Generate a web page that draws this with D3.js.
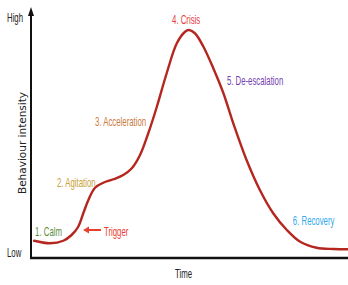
<!DOCTYPE html>
<html>
<head>
<meta charset="utf-8">
<script src="https://cdn.jsdelivr.net/npm/d3@7"></script>
<style>
	body { margin: 0; background: #fff; }
	svg { display: block; }
	.label { font-family: "Liberation Sans", Arial, sans-serif; font-size: 12px; }
</style>
</head>
<body>
<div id="chart"></div>
<script>
// curve of behaviour intensity over time (both 0-100)
const timeValues = [1.0, 6.0, 10.2, 12.8, 14.9, 16.5, 18.1, 20.2, 22.8, 26.0, 29.1, 31.8, 34.4, 37.0, 39.7, 42.8, 46.0, 48.6, 49.8, 51.7, 54.4, 57.5, 60.7, 63.8, 68.0, 72.2, 76.4, 80.7, 84.9, 90.1, 95.4, 100];
const intensityValues = [6.9, 5.9, 6.9, 9.2, 12.5, 17.9, 23.2, 28.1, 30.1, 31.5, 33.2, 35.9, 41.2, 49.9, 60.5, 73.9, 85.9, 90.5, 91.2, 89.9, 84.5, 75.9, 65.9, 53.9, 39.2, 27.2, 17.9, 11.2, 6.5, 4.1, 3.6, 3.5];

// phase annotations (anchor in data units)
const phaseNames = ["1. Calm", "2. Agitation", "3. Acceleration", "4. Crisis", "5. De-escalation", "6. Recovery"];
const phaseTimes = [1.3, 8.2, 20.2, 44.5, 61.8, 82.6];
const phaseLevels = [9.2, 28.8, 53.2, 94, 69.6, 13.6];
const phaseColors = ["#5a8f3c", "#c8a13a", "#cc7a3e", "#e8383d", "#7440b0", "#33aaee"];

const triggerTime = 16.4;
const triggerLevel = 11.2;

const width = 348;
const height = 285;

const svg = d3
	.select("div#chart")
	.append("svg")
	.attr("width", width)
	.attr("height", height);

const x = d3.scaleLinear().domain([0, 100]).range([31, 348]);
const y = d3.scaleLinear().domain([0, 100]).range([258, 8]);

// the source text is a narrow face, so squash a regular one
const squeeze = 0.65;

// axes
svg
	.append("line")
	.attr("x1", x(0))
	.attr("x2", x(0))
	.attr("y1", y(0) + 1)
	.attr("y2", y(100) + 6)
	.attr("stroke", "#111")
	.attr("stroke-width", 2);

svg
	.append("path")
	.attr("d", `M${x(0)},${y(100) - 1} L${x(0) - 3},${y(100) + 8} L${x(0) + 3},${y(100) + 8} Z`)
	.attr("fill", "#111");

svg
	.append("line")
	.attr("x1", x(0) - 1)
	.attr("x2", x(100))
	.attr("y1", y(0))
	.attr("y2", y(0))
	.attr("stroke", "#111")
	.attr("stroke-width", 2.5);

const axisText = (txt, px, py) =>
	svg
		.append("text")
		.attr("class", "label")
		.attr("transform", `translate(${px},${py}) scale(${squeeze},1)`)
		.attr("fill", "#222")
		.text(txt);

axisText("High", 7, 22);
axisText("Low", 7, 257);
axisText("Time", 175, 278);

svg
	.append("text")
	.attr("transform", `translate(26,${y(46)}) rotate(-90)`)
	.attr("text-anchor", "middle")
	.attr("font-family", "DejaVu Sans, sans-serif")
	.attr("font-size", 10.5)
	.attr("fill", "#222")
	.text("Behaviour intensity");

// curve
const points = timeValues.map((t, i) => [t, intensityValues[i]]);

const line = d3
	.line()
	.x((d) => x(d[0]))
	.y((d) => y(d[1]))
	.curve(d3.curveCatmullRom.alpha(0.5));

svg
	.append("path")
	.datum(points)
	.attr("d", line)
	.attr("fill", "none")
	.attr("stroke", "#b5261f")
	.attr("stroke-width", 2.4)
	.attr("stroke-linecap", "round");

// phase labels
svg
	.selectAll("text.phase")
	.data(phaseNames)
	.enter()
	.append("text")
	.attr("class", "label phase")
	.attr("transform", (d, i) => `translate(${x(phaseTimes[i])},${y(phaseLevels[i]) + 0.5}) scale(${squeeze},1)`)
	.attr("fill", (d, i) => phaseColors[i])
	.text((d) => d);

// trigger arrow + label
const ax = x(triggerTime);
const ay = y(triggerLevel);
svg
	.append("line")
	.attr("x1", ax + 4)
	.attr("x2", ax + 18)
	.attr("y1", ay)
	.attr("y2", ay)
	.attr("stroke", "#e8402f")
	.attr("stroke-width", 2);

svg
	.append("path")
	.attr("d", `M${ax},${ay} L${ax + 6},${ay - 3.5} L${ax + 6},${ay + 3.5} Z`)
	.attr("fill", "#e8402f");

svg
	.append("text")
	.attr("class", "label")
	.attr("transform", `translate(${ax + 21},${ay + 5.5}) scale(${squeeze},1)`)
	.attr("fill", "#e8402f")
	.text("Trigger");
</script>
</body>
</html>
